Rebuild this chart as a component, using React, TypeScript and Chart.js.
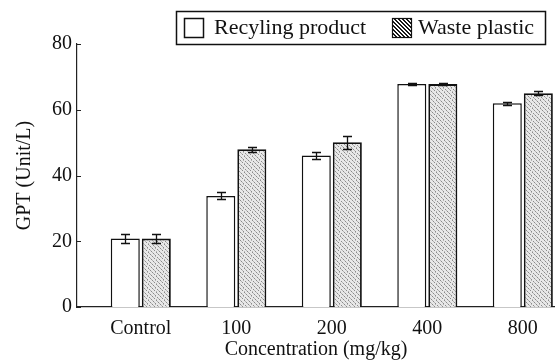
import React, { useEffect, useRef } from "react";
import { Chart, registerables } from "chart.js";

Chart.register(...registerables);

const categories = ["Control", "100", "200", "400", "800"];
const seriesNames = ["Recyling product", "Waste plastic"];
const recyclingValues = [20.8, 33.8, 46.1, 67.8, 62.0];
const recyclingErrors = [1.3, 1.1, 1.2, 0.3, 0.5];
const wasteValues = [20.8, 48.0, 50.1, 67.8, 65.0];
const wasteErrors = [1.3, 0.8, 1.9, 0.4, 0.6];
const yTicks = [0, 20, 40, 60, 80];
const xTitle = "Concentration (mg/kg)";
const yTitle = "GPT (Unit/L)";

const FONT = "'Liberation Serif', 'Times New Roman', serif";

function makeStipple(ctx: CanvasRenderingContext2D) {
  const n = 8;
  const c = document.createElement("canvas");
  c.width = n;
  c.height = n;
  const p = c.getContext("2d")!;
  p.fillStyle = "#e8e8e8";
  p.fillRect(0, 0, n, n);
  // diagonal stippled texture
  const dark: [number, number][] = [
    [0, 0], [2, 2], [4, 4], [6, 6], [1, 5], [3, 7], [5, 1], [7, 3],
  ];
  const mid: [number, number][] = [
    [1, 1], [5, 5], [3, 0], [6, 2], [0, 4], [2, 6], [7, 7], [4, 3],
  ];
  p.fillStyle = "#8a8a8a";
  dark.forEach(([x, y]) => p.fillRect(x, y, 1, 1));
  p.fillStyle = "#b4b4b4";
  mid.forEach(([x, y]) => p.fillRect(x, y, 1, 1));
  return ctx.createPattern(c, "repeat")!;
}

function makeHatch(ctx: CanvasRenderingContext2D) {
  const c = document.createElement("canvas");
  c.width = 4;
  c.height = 4;
  const p = c.getContext("2d")!;
  p.fillStyle = "#ffffff";
  p.fillRect(0, 0, 4, 4);
  p.fillStyle = "#1a1a1a";
  for (let i = 0; i < 4; i++) {
    p.fillRect(i, i, 1, 1);
    p.fillRect(i, (i + 1) % 4, 1, 1);
  }
  return ctx.createPattern(c, "repeat")!;
}

export default function App() {
  const ref = useRef<HTMLCanvasElement | null>(null);

  useEffect(() => {
    document.body.style.margin = "0";
    const canvas = ref.current!;
    const ctx = canvas.getContext("2d")!;
    const stipple = makeStipple(ctx);
    const hatch = makeHatch(ctx);
    const errors = [recyclingErrors, wasteErrors];

    const errorBars = {
      id: "errorBars",
      afterDatasetsDraw(chart: any) {
        const c = chart.ctx;
        const ys = chart.scales.y;
        c.save();
        c.strokeStyle = "#111";
        c.lineWidth = 1.3;
        chart.data.datasets.forEach((ds: any, d: number) => {
          const meta = chart.getDatasetMeta(d);
          meta.data.forEach((bar: any, i: number) => {
            const v = ds.data[i].y;
            const e = errors[d][i];
            const top = Math.round(ys.getPixelForValue(v + e)) + 0.5;
            const bot = Math.round(ys.getPixelForValue(v - e)) + 0.5;
            const x = Math.round(bar.x) + 0.5;
            c.beginPath();
            c.moveTo(x, top);
            c.lineTo(x, bot);
            c.moveTo(x - 4.5, top);
            c.lineTo(x + 4.5, top);
            c.moveTo(x - 4.5, bot);
            c.lineTo(x + 4.5, bot);
            c.stroke();
          });
        });
        c.restore();
      },
    };

    const extras = {
      id: "extras",
      afterDraw(chart: any) {
        const c = chart.ctx;
        const ys = chart.scales.y;
        const left = chart.chartArea.left;
        c.save();
        c.strokeStyle = "#222";
        c.lineWidth = 1;
        yTicks.forEach((t) => {
          const y = Math.round(ys.getPixelForValue(t)) + 0.5;
          c.beginPath();
          c.moveTo(left, y);
          c.lineTo(left + 4, y);
          c.stroke();
        });
        // legend
        c.strokeStyle = "#111";
        c.lineWidth = 1.5;
        c.strokeRect(176.5, 11.5, 369, 33);
        c.fillStyle = "#fff";
        c.fillRect(184.5, 18.5, 19, 19);
        c.strokeRect(184.5, 18.5, 19, 19);
        c.fillStyle = hatch;
        c.fillRect(392.5, 18.5, 19, 19);
        c.lineWidth = 1.2;
        c.strokeRect(392.5, 18.5, 19, 19);
        c.fillStyle = "#111";
        c.font = `22px ${FONT}`;
        c.textBaseline = "middle";
        c.textAlign = "left";
        c.fillText(seriesNames[0], 214, 28.5);
        c.fillText(seriesNames[1], 418, 28.5);
        c.restore();
      },
    };

    const chart = new Chart(canvas, {
      type: "bar",
      data: {
        datasets: [
          {
            label: seriesNames[0],
            data: recyclingValues.map((v, i) => ({ x: i, y: v })),
            backgroundColor: "#ffffff",
            borderColor: "#111",
            borderWidth: 1.5,
            categoryPercentage: 0.65,
            barPercentage: 0.935,
          },
          {
            label: seriesNames[1],
            data: wasteValues.map((v, i) => ({ x: i, y: v })),
            backgroundColor: stipple as any,
            borderColor: "#111",
            borderWidth: 1.8,
            categoryPercentage: 0.65,
            barPercentage: 0.935,
          },
        ],
      },
      options: {
        responsive: false,
        animation: false,
        layout: { padding: { top: 44, right: 0, left: 0, bottom: 0 } },
        plugins: {
          legend: { display: false },
          tooltip: { enabled: false },
        },
        scales: {
          x: {
            type: "linear",
            min: -0.668,
            max: 4.337,
            offset: false,
            grid: { display: false, drawTicks: false },
            border: { display: true, color: "#222", width: 1.2 },
            ticks: {
              stepSize: 1,
              includeBounds: false,
              autoSkip: false,
              maxRotation: 0,
              padding: 10,
              color: "#111",
              font: { family: FONT, size: 20 },
              callback: (v: any) =>
                Number.isInteger(v) && v >= 0 && v < categories.length ? categories[v] : "",
            },
            title: {
              display: true,
              text: xTitle,
              color: "#111",
              font: { family: FONT, size: 20 },
              padding: { top: 0, bottom: 1 },
            },
            afterFit: (s: any) => {
              s.height = 56;
            },
          },
          y: {
            min: 0,
            max: 80,
            grid: { display: false, drawTicks: false },
            border: { display: true, color: "#222", width: 1.2 },
            ticks: {
              stepSize: 20,
              padding: 5,
              color: "#111",
              font: { family: FONT, size: 20 },
            },
            title: {
              display: true,
              text: yTitle,
              color: "#111",
              font: { family: FONT, size: 20 },
              padding: { top: 13, bottom: 0 },
            },
            afterFit: (s: any) => {
              s.width = 77;
            },
          },
        },
      },
      plugins: [errorBars, extras],
    });
    return () => chart.destroy();
  }, []);

  return (
    <div style={{ width: 555, height: 363 }}>
      <canvas ref={ref} width={555} height={363} />
    </div>
  );
}
